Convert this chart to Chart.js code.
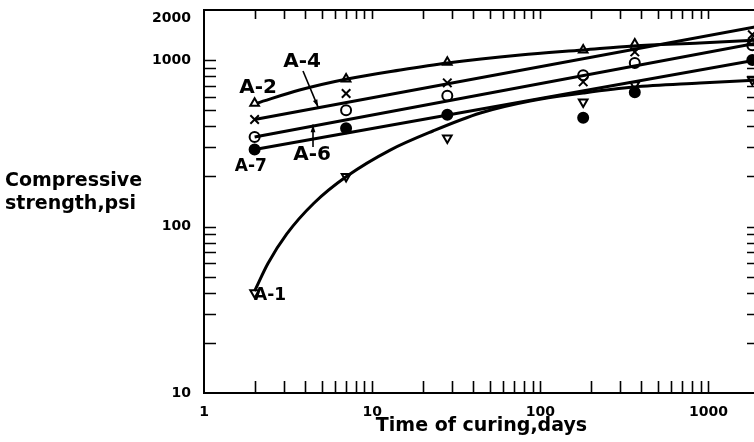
<!DOCTYPE html>
<html>
<head>
<meta charset="utf-8">
<script src="https://cdn.jsdelivr.net/npm/chart.js@4.4.0/dist/chart.umd.min.js"></script>
<style>
html, body { margin: 0; padding: 0; background: #fff; overflow: hidden; }
#wrap { width: 759px; height: 442px; }
</style>
</head>
<body>
<div id="wrap"><canvas id="myChart" width="759" height="442"></canvas></div>
<script>
// ages at test, days
const days = [2, 7, 28, 180, 365, 1825];
// measured strength, psi
const strengthA2 = [550, 770, 970, 1150, 1250, 1270];
const strengthA4 = [440, 630, 730, 740, 1120, 1420];
const strengthA6 = [345, 500, 610, 810, 960, 1230];
const strengthA7 = [290, 390, 470, 450, 640, 1000];
const strengthA1 = [40, 200, 340, 560, 710, 760];

// straight lines drawn through A-4, A-6, A-7
const fitDays = [2, 2000];
const fitA4 = [440, 1600];
const fitA6 = [345, 1270];
const fitA7 = [290, 1010];

// curves drawn through A-2 and A-1
const curveDaysA2 = [2.07, 3.7, 7.1, 14.7, 28, 76, 180, 357, 890, 2000];
const curveA2 = [552, 661, 770, 872, 961, 1073, 1150, 1215, 1267, 1320];
const curveDaysA1 = [2, 2.4, 3.1, 4.5, 7.1, 12.8, 23, 44, 87, 180, 357, 890, 2000];
const curveA1 = [41, 60, 90, 138, 201, 288, 375, 481, 568, 634, 689, 728, 760];

const xTickLabels = [1, 10, 100, 1000];
const yTickLabels = [10, 100, 1000, 2000];

function pts(xs, ys) {
    var out = [];
    for (var i = 0; i < xs.length; i++) {
        out.push({x: xs[i], y: ys[i]});
    }
    return out;
}

function lineSet(xs, ys, curved) {
    return {
        data: pts(xs, ys),
        showLine: true,
        borderColor: '#000',
        borderWidth: 3,
        pointRadius: 0,
        pointHoverRadius: 0,
        cubicInterpolationMode: curved ? 'monotone' : 'default',
        fill: false
    };
}

function markSet(ys, style, filled, rot, r) {
    return {
        data: pts(days, ys),
        showLine: false,
        pointStyle: style,
        pointRadius: r || 5,
        pointRotation: rot || 0,
        pointBackgroundColor: filled ? '#000' : '#fff',
        pointBorderColor: '#000',
        pointBorderWidth: 2
    };
}

// labels on the plot, placed in data units [days, psi]
const notes = [
    {text: 'A-2', x: 2.1, y: 680, size: 20},
    {text: 'A-4', x: 3.83, y: 974, size: 20},
    {text: 'A-6', x: 4.4, y: 269, size: 20},
    {text: 'A-7', x: 1.9, y: 228, size: 17},
    {text: 'A-1', x: 2.47, y: 38.7, size: 17}
];
const arrows = [
    {from: [3.88, 860], to: [4.77, 522]},
    {from: [4.45, 301], to: [4.45, 410]}
];

const paper = {
    id: 'paper',
    beforeDatasetsDraw(chart) {
        const ctx = chart.ctx;
        const a = chart.chartArea;
        const xs = chart.scales.x;
        const ys = chart.scales.y;
        ctx.save();
        ctx.strokeStyle = '#000';
        ctx.lineWidth = 1.6;
        ctx.beginPath();
        // inward ticks, every 1..9 of each decade
        for (var d = 1; d <= 1000; d *= 10) {
            for (var m = 1; m <= 9; m++) {
                var v = m * d;
                if (v <= 1 || v >= 2000) continue;
                var px = Math.round(xs.getPixelForValue(v)) + 0.5;
                ctx.moveTo(px, a.bottom); ctx.lineTo(px, a.bottom - 12);
                ctx.moveTo(px, a.top); ctx.lineTo(px, a.top + 9);
            }
        }
        for (var d2 = 10; d2 <= 1000; d2 *= 10) {
            for (var m2 = 1; m2 <= 9; m2++) {
                var w = m2 * d2;
                if (w <= 10 || w >= 2000) continue;
                var py = Math.round(ys.getPixelForValue(w)) + 0.5;
                ctx.moveTo(a.left, py); ctx.lineTo(a.left + 12, py);
                ctx.moveTo(a.right, py); ctx.lineTo(a.right - 12, py);
            }
        }
        ctx.stroke();
        ctx.lineWidth = 2;
        ctx.strokeRect(a.left, a.top, a.right - a.left, a.bottom - a.top);
        ctx.restore();
    },
    afterDraw(chart) {
        const ctx = chart.ctx;
        const xs = chart.scales.x;
        const ys = chart.scales.y;
        ctx.save();
        ctx.fillStyle = '#000';
        ctx.strokeStyle = '#000';
        // y title is horizontal in the original
        ctx.font = 'bold 19px "DejaVu Sans"';
        ctx.textAlign = 'left';
        ctx.textBaseline = 'alphabetic';
        ctx.fillText('Compressive', 5, 186);
        ctx.fillText('strength,psi', 5, 209);

        ctx.textAlign = 'center';
        ctx.textBaseline = 'middle';
        notes.forEach(function (n) {
            ctx.font = 'bold ' + n.size + 'px "DejaVu Sans"';
            ctx.fillText(n.text, xs.getPixelForValue(n.x), ys.getPixelForValue(n.y));
        });

        ctx.lineWidth = 1.6;
        arrows.forEach(function (ar) {
            var x0 = xs.getPixelForValue(ar.from[0]), y0 = ys.getPixelForValue(ar.from[1]);
            var x1 = xs.getPixelForValue(ar.to[0]), y1 = ys.getPixelForValue(ar.to[1]);
            var ang = Math.atan2(y1 - y0, x1 - x0);
            ctx.beginPath();
            ctx.moveTo(x0, y0);
            ctx.lineTo(x1, y1);
            ctx.stroke();
            ctx.beginPath();
            ctx.moveTo(x1, y1);
            ctx.lineTo(x1 - 8 * Math.cos(ang - 0.3), y1 - 8 * Math.sin(ang - 0.3));
            ctx.lineTo(x1 - 8 * Math.cos(ang + 0.3), y1 - 8 * Math.sin(ang + 0.3));
            ctx.closePath();
            ctx.fill();
        });
        ctx.restore();
    }
};

const ctx = document.getElementById('myChart').getContext('2d');
const config = {
    type: 'scatter',
    data: {
        datasets: [
            lineSet(curveDaysA2, curveA2, true),
            lineSet(fitDays, fitA4, false),
            lineSet(fitDays, fitA6, false),
            lineSet(fitDays, fitA7, false),
            lineSet(curveDaysA1, curveA1, true),
            markSet(strengthA2, 'triangle', false),
            markSet(strengthA4, 'crossRot', false, 0, 6),
            markSet(strengthA6, 'circle', false),
            markSet(strengthA7, 'circle', true),
            markSet(strengthA1, 'triangle', false, 180)
        ]
    },
    options: {
        responsive: false,
        animation: false,
        devicePixelRatio: 1,
        // no extra room for points: the frame sits at fixed pixels
        layout: {autoPadding: false, padding: {top: 10, right: 0, left: 0, bottom: 0}},
        plugins: {legend: {display: false}, tooltip: {enabled: false}},
        scales: {
            x: {
                type: 'logarithmic',
                min: 1,
                max: 2000,
                grid: {display: false},
                border: {display: false},
                afterFit: function (s) {
                    s.height = 49;
                    s.paddingLeft = 0;
                    s.paddingRight = 0;
                },
                ticks: {
                    autoSkip: false,
                    maxRotation: 0,
                    padding: 3,
                    color: '#000',
                    font: {family: 'DejaVu Sans', size: 14, weight: 'bold'},
                    callback: function (v) {
                        return xTickLabels.indexOf(v) >= 0 ? String(v) : '';
                    }
                },
                title: {
                    display: true,
                    text: 'Time of curing,days',
                    color: '#000',
                    font: {family: 'DejaVu Sans', size: 19, weight: 'bold'},
                    padding: {top: 0, bottom: 5}
                }
            },
            y: {
                type: 'logarithmic',
                min: 10,
                max: 2000,
                grid: {display: false},
                border: {display: false},
                afterFit: function (s) {
                    s.width = 204;
                    s.paddingTop = 0;
                    s.paddingBottom = 0;
                },
                ticks: {
                    autoSkip: false,
                    padding: 5,
                    color: '#000',
                    font: {family: 'DejaVu Sans', size: 14, weight: 'bold'},
                    callback: function (v) {
                        if (yTickLabels.indexOf(v) < 0) return '';
                        // top label is printed a bit below the corner
                        return v === 2000 ? ['', String(v)] : String(v);
                    }
                }
            }
        }
    },
    plugins: [paper]
};
const myChart = new Chart(ctx, config);
</script>
</body>
</html>
